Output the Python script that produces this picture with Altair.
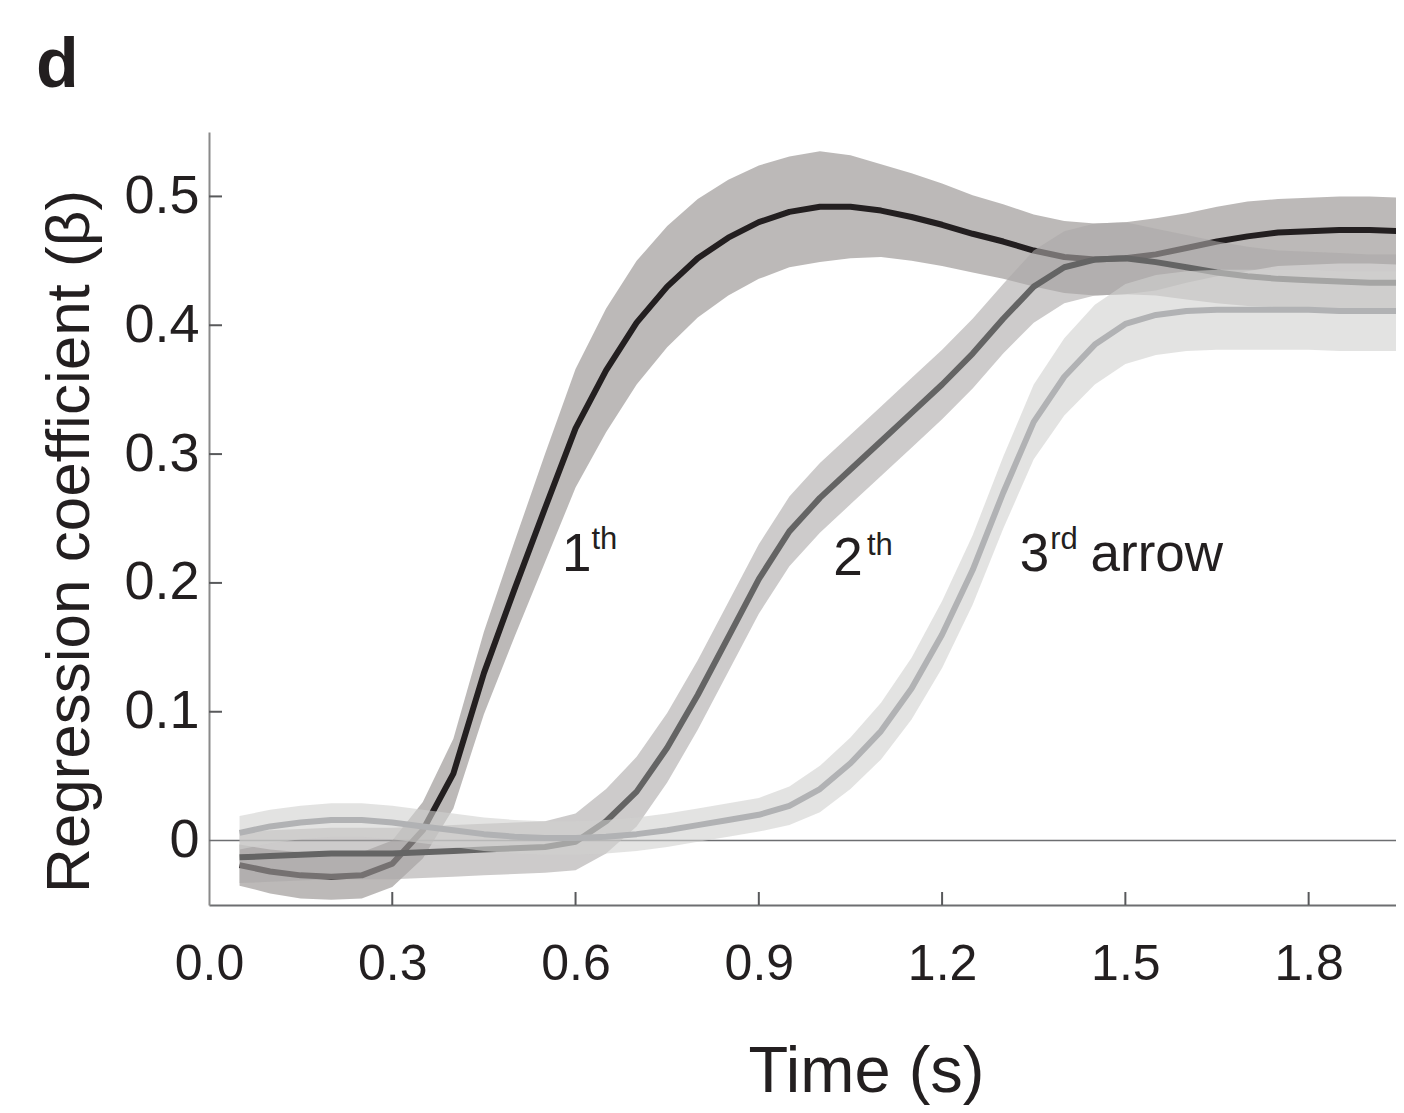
import altair as alt
import pandas as pd

# ---------------- data ----------------
t = [0.05, 0.10, 0.15, 0.20, 0.25, 0.30, 0.35, 0.40, 0.45, 0.50,
     0.55, 0.60, 0.65, 0.70, 0.75, 0.80, 0.85, 0.90, 0.95, 1.00,
     1.05, 1.10, 1.15, 1.20, 1.25, 1.30, 1.35, 1.40, 1.45, 1.50,
     1.55, 1.60, 1.65, 1.70, 1.75, 1.80, 1.85, 1.90, 1.95]

mean_1 = [-0.019, -0.024, -0.027, -0.028, -0.027, -0.018, 0.008, 0.052, 0.130, 0.195,
          0.258, 0.320, 0.365, 0.402, 0.430, 0.452, 0.468, 0.480, 0.488, 0.492,
          0.492, 0.489, 0.484, 0.478, 0.471, 0.465, 0.458, 0.453, 0.451, 0.452,
          0.455, 0.460, 0.465, 0.469, 0.472, 0.473, 0.474, 0.474, 0.473]
sem_1 = [0.016, 0.017, 0.018, 0.018, 0.018, 0.018, 0.022, 0.027, 0.032, 0.037,
         0.042, 0.046, 0.048, 0.048, 0.047, 0.046, 0.045, 0.044, 0.043, 0.043,
         0.040, 0.036, 0.034, 0.032, 0.030, 0.029, 0.028, 0.028, 0.028, 0.028,
         0.028, 0.027, 0.027, 0.027, 0.026, 0.026, 0.026, 0.026, 0.026]

mean_2 = [-0.013, -0.012, -0.011, -0.010, -0.010, -0.010, -0.009, -0.008, -0.007, -0.006,
          -0.005, -0.001, 0.015, 0.038, 0.072, 0.113, 0.158, 0.203, 0.240, 0.266,
          0.288, 0.310, 0.332, 0.354, 0.378, 0.405, 0.430, 0.445, 0.451, 0.452,
          0.449, 0.445, 0.441, 0.438, 0.436, 0.435, 0.434, 0.433, 0.433]
sem_2 = [0.020, 0.020, 0.020, 0.020, 0.020, 0.020, 0.020, 0.020, 0.020, 0.020,
         0.020, 0.022, 0.025, 0.027, 0.027, 0.027, 0.027, 0.027, 0.027, 0.027,
         0.027, 0.027, 0.027, 0.027, 0.027, 0.027, 0.028, 0.028, 0.028, 0.028,
         0.026, 0.025, 0.024, 0.023, 0.022, 0.022, 0.022, 0.022, 0.022]

mean_3 = [0.006, 0.011, 0.014, 0.016, 0.016, 0.014, 0.011, 0.008, 0.005, 0.003,
          0.002, 0.002, 0.003, 0.005, 0.008, 0.012, 0.016, 0.020, 0.027, 0.040,
          0.060, 0.085, 0.118, 0.160, 0.210, 0.270, 0.325, 0.360, 0.385, 0.401,
          0.408, 0.411, 0.412, 0.412, 0.412, 0.412, 0.411, 0.411, 0.411]
sem_3 = [0.013, 0.013, 0.013, 0.013, 0.013, 0.013, 0.013, 0.013, 0.013, 0.013,
         0.013, 0.013, 0.013, 0.013, 0.013, 0.013, 0.013, 0.013, 0.015, 0.018,
         0.020, 0.022, 0.024, 0.026, 0.027, 0.028, 0.029, 0.030, 0.031, 0.031,
         0.031, 0.031, 0.031, 0.031, 0.031, 0.031, 0.031, 0.031, 0.031]

series_names = ["1th", "2th", "3rd"]
line_colors = ["#231f20", "#646464", "#b1b2b4"]
band_colors = ["#8f8a89", "#aca9a9", "#d0d0cf"]

x_tick_values = [0.0, 0.3, 0.6, 0.9, 1.2, 1.5, 1.8]
y_tick_values = [0.0, 0.1, 0.2, 0.3, 0.4, 0.5]

label_main_text = ["1", "2", "3", "arrow"]
label_main_t = [0.578, 1.022, 1.327, 1.443]
label_main_v = [0.209, 0.206, 0.209, 0.209]
label_sup_text = ["th", "th", "rd"]
label_sup_t = [0.626, 1.077, 1.377]
label_sup_v = [0.226, 0.222, 0.226]

# ---------------- layout constants ----------------
X_MAX = 1.943
Y_MIN, Y_MAX = -0.05, 0.55
W, H = 1187, 773
TICK_PX = 13
FONT = "Liberation Sans"
TXT = "#231f20"

rows = []
for name, m, s in zip(series_names, [mean_1, mean_2, mean_3], [sem_1, sem_2, sem_3]):
    for ti, mi, si in zip(t, m, s):
        rows.append({"t": ti, "series": name, "mean": mi, "lo": mi - si, "hi": mi + si})
df = pd.DataFrame(rows)

x_scale = alt.Scale(domain=[0, X_MAX], nice=False, zero=False)
y_scale = alt.Scale(domain=[Y_MIN, Y_MAX], nice=False, zero=False)

x_axis = alt.Axis(
    values=x_tick_values, format=".1f", grid=False, ticks=False, tickSize=0,
    labelFont=FONT, labelFontSize=50, labelColor=TXT, labelPadding=74,
    labelBaseline="alphabetic", labelFlush=False, labelOverlap=False,
    domainColor="#6d6e71", domainWidth=2,
    title="Time (s)", titleFont=FONT, titleFontSize=65, titleFontWeight="normal",
    titleColor=TXT, titleX=657, titleY=186, titleBaseline="alphabetic", titleAlign="center",
)
y_axis = alt.Axis(
    values=y_tick_values, labelExpr="datum.value == 0 ? '0' : format(datum.value, '.1f')",
    grid=False, ticks=False, tickSize=0,
    labelFont=FONT, labelFontSize=54, labelColor=TXT, labelPadding=10, labelOverlap=False,
    domainColor="#8a8a8a", domainWidth=2,
    title="Regression coefficient (β)", titleFont=FONT, titleFontSize=62,
    titleFontWeight="normal", titleColor=TXT, titleAngle=270,
    titleX=-121, titleY=409, titleBaseline="alphabetic", titleAlign="center",
)

X_ENC = lambda f: alt.X(f, scale=x_scale, axis=x_axis)
Y_ENC = lambda f: alt.Y(f, scale=y_scale, axis=y_axis)

layers = []

# x ticks (inward)
xt_df = pd.DataFrame({"t": x_tick_values[1:]})
xt_df["y0"] = Y_MIN
xt_df["y1"] = Y_MIN + TICK_PX * (Y_MAX - Y_MIN) / H
layers.append(
    alt.Chart(xt_df).mark_rule(color="#58595b", strokeWidth=2).encode(
        x=X_ENC("t:Q"), y=Y_ENC("y0:Q"), y2="y1:Q",
    )
)

# y ticks (inward)
yt_df = pd.DataFrame({"v": y_tick_values[1:]})
yt_df["x0"] = 0.0
yt_df["x1"] = TICK_PX * X_MAX / W
layers.append(
    alt.Chart(yt_df).mark_rule(color="#58595b", strokeWidth=2).encode(
        y=Y_ENC("v:Q"), x=X_ENC("x0:Q"), x2="x1:Q",
    )
)

# zero line
zero_df = pd.DataFrame({"v": [0.0]})
layers.append(
    alt.Chart(zero_df).mark_rule(color="#6d6e71", strokeWidth=1.5).encode(
        y=Y_ENC("v:Q")
    )
)

for name, lc, bc in zip(series_names, line_colors, band_colors):
    base = alt.Chart(df).transform_filter(alt.datum.series == name)
    layers.append(
        base.mark_area(color=bc, opacity=0.6, clip=True).encode(
            x=X_ENC("t:Q"), y=Y_ENC("lo:Q"), y2="hi:Q",
        )
    )
    layers.append(
        base.mark_line(color=lc, strokeWidth=6, clip=True, strokeJoin="round").encode(
            x=X_ENC("t:Q"), y=Y_ENC("mean:Q"),
        )
    )

main_df = pd.DataFrame({"text": label_main_text, "t": label_main_t, "v": label_main_v})
sup_df = pd.DataFrame({"text": label_sup_text, "t": label_sup_t, "v": label_sup_v})
layers.append(
    alt.Chart(main_df).mark_text(font=FONT, fontSize=53, color=TXT, align="left",
                                 baseline="alphabetic").encode(
        x=X_ENC("t:Q"), y=Y_ENC("v:Q"), text="text:N",
    )
)
layers.append(
    alt.Chart(sup_df).mark_text(font=FONT, fontSize=31, color=TXT, align="left",
                                baseline="alphabetic").encode(
        x=X_ENC("t:Q"), y=Y_ENC("v:Q"), text="text:N",
    )
)

chart = alt.layer(*layers).properties(
    width=W, height=H,
    background="white",
    autosize=alt.AutoSizeParams(type="none"),
    padding={"left": 201, "top": 124, "right": 0, "bottom": 200},
    title=alt.TitleParams(
        text="d", anchor="start", frame="group", font=FONT, fontSize=70,
        fontWeight="bold", color=TXT, baseline="alphabetic", offset=43, dx=-173, dy=68,
    ),
).configure_view(stroke="transparent", strokeWidth=0)

chart.save("out.html", embed_options={"renderer": "svg", "actions": False})
